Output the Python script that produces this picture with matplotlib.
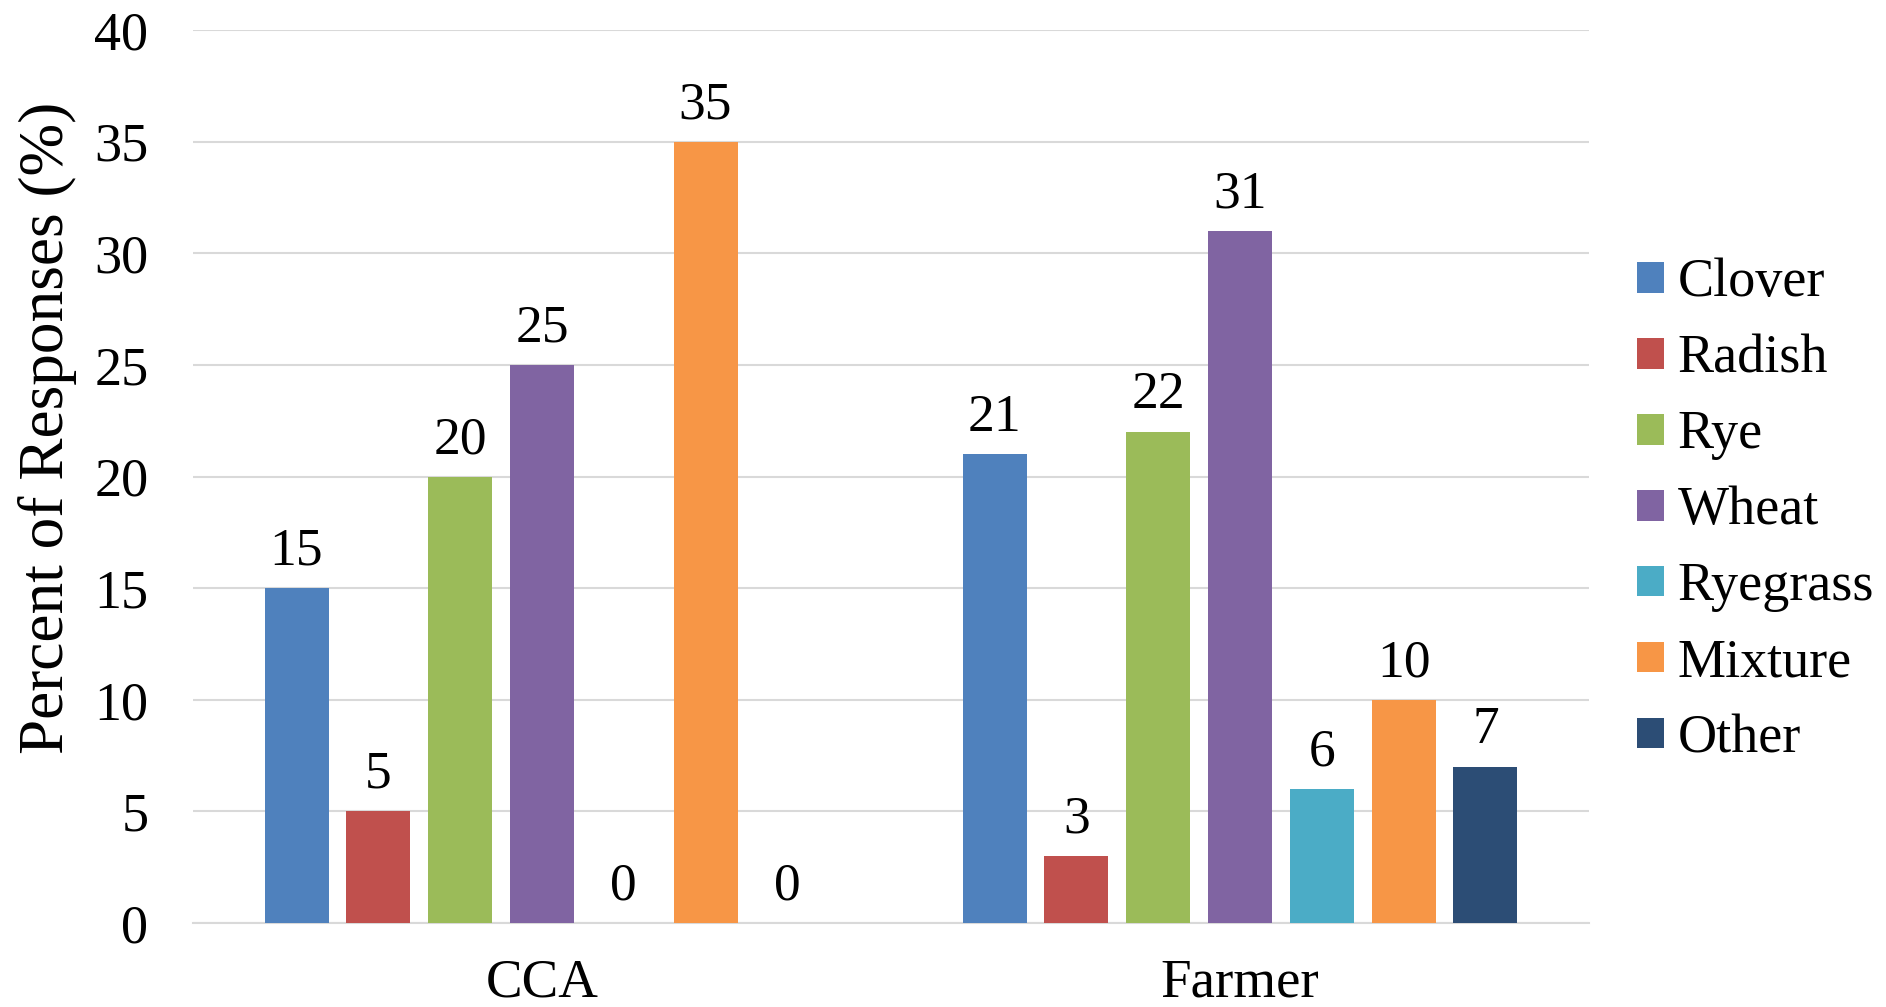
import numpy as np
import matplotlib.pyplot as plt
from matplotlib import font_manager as fm

# Data
groups = ["CCA", "Farmer"]
crops = ["Clover", "Radish", "Rye", "Wheat", "Ryegrass", "Mixture", "Other"]
cca = [15, 5, 20, 25, 0, 35, 0]
farmer = [21, 3, 22, 31, 6, 10, 7]
colors = ["#4F81BD", "#C0504D", "#9BBB59", "#8064A2", "#4BACC6", "#F79646", "#2C4D75"]

for path in fm.findSystemFonts():
    if "LiberationSerif" in path.replace(" ", ""):
        fm.fontManager.addfont(path)

plt.rcParams["font.family"] = "serif"
plt.rcParams["font.serif"] = ["Liberation Serif", "Times New Roman", "DejaVu Serif"]

fig = plt.figure(figsize=(18.86, 10.07), dpi=100)
ax = fig.add_axes([0.1023, 0.0834, 0.7402, 0.8868])

x = np.arange(len(groups))
step = 0.1172
width = 0.0917

for i, crop in enumerate(crops):
    vals = [cca[i], farmer[i]]
    offset = (i - 3) * step
    bars = ax.bar(x + offset, vals, width, color=colors[i], label=crop, zorder=3)
    ax.bar_label(bars, labels=[str(v) for v in vals], padding=9, fontsize=38.5)

ax.set_xlim(-0.5, 1.5)
ax.set_ylim(0, 40)
ax.set_yticks(range(0, 41, 5))
ax.set_xticks(x)
ax.set_xticklabels(groups)
ax.tick_params(axis="both", length=0, labelsize=39)
ax.tick_params(axis="x", labelsize=39.5, pad=25)
ax.tick_params(axis="y", pad=32)

ax.grid(axis="y", color="#d9d9d9", linewidth=1.5, zorder=0)
for side in ["top", "right", "left"]:
    ax.spines[side].set_visible(False)
ax.spines["bottom"].set_color("#d9d9d9")
ax.spines["bottom"].set_linewidth(1.5)

ax.set_ylabel("Percent of Responses (%)", fontsize=45.5)
ax.yaxis.set_label_coords(-0.083, 0.554)

fig.legend(loc="center left", bbox_to_anchor=(0.8535, 0.4925), frameon=False,
           fontsize=39, handlelength=0.5, handleheight=0.5, handletextpad=0.25,
           labelspacing=0.47, borderpad=0)

fig.savefig("out.png", dpi=100)
